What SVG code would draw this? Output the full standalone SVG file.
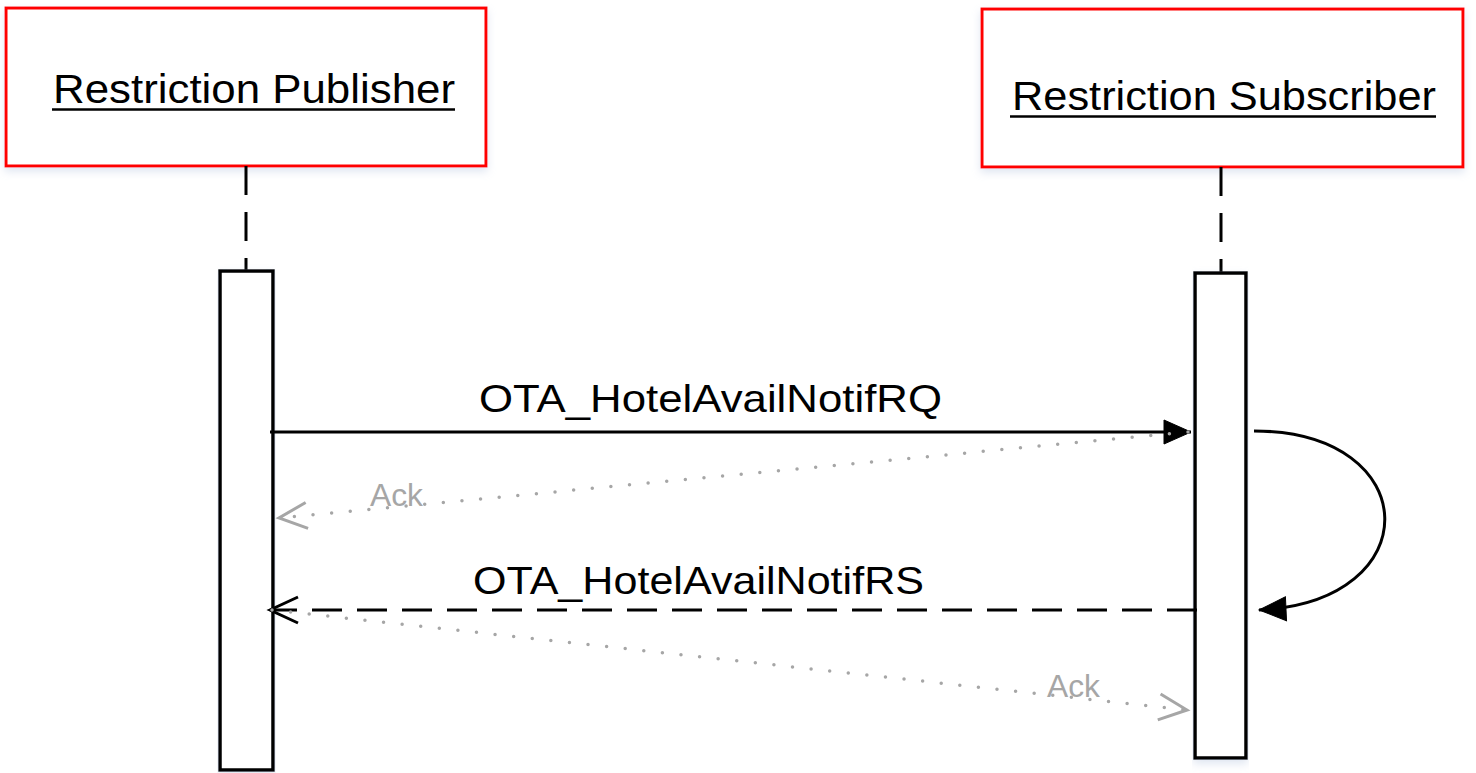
<svg xmlns="http://www.w3.org/2000/svg" width="1476" height="773" viewBox="0 0 1476 773">
  <style>
    .hdr { fill: #ffffff; stroke: #ff0000; stroke-width: 3; }
    .act { fill: #ffffff; stroke: #000000; stroke-width: 3.5; }
    .life { stroke: #000000; stroke-width: 3; stroke-dasharray: 29 17; fill: none; }
    .title { font-family: "Liberation Sans", Arial, sans-serif; font-size: 41px; fill: #000000; }
    .msg { font-family: "Liberation Sans", Arial, sans-serif; font-size: 39px; fill: #000000; }
    .ack { font-family: "Liberation Sans", Arial, sans-serif; font-size: 31px; fill: #a6a6a6; }
    .uline { stroke: #000000; stroke-width: 2.5; }
    .solid { stroke: #000000; stroke-width: 3; fill: none; }
    .dash { stroke: #000000; stroke-width: 3; fill: none; stroke-dasharray: 30 15; }
    .dot { stroke: #a6a6a6; stroke-width: 3.5; fill: none; stroke-dasharray: 0 18.7; stroke-linecap: round; }
  </style>
  <defs>
    <filter id="sh" x="-5%" y="-5%" width="110%" height="115%">
      <feDropShadow dx="0" dy="4" stdDeviation="4" flood-color="#b8c6e0" flood-opacity="0.45"/>
    </filter>
    <marker id="fill" markerUnits="userSpaceOnUse" viewBox="-28 -13 30 26" markerWidth="30" markerHeight="26" refX="0" refY="0" orient="auto" overflow="visible">
      <path d="M-27,-12 L0,0 L-27,12 Z" fill="#000000" stroke="#000000" stroke-width="1" stroke-linejoin="miter"/>
    </marker>
    <marker id="open" markerUnits="userSpaceOnUse" viewBox="-30 -15 32 30" markerWidth="32" markerHeight="30" refX="0" refY="0" orient="auto" overflow="visible">
      <path d="M-28,-13 L0,0 L-28,13" fill="none" stroke="#000000" stroke-width="3" stroke-dasharray="none"/>
    </marker>
    <marker id="openg" markerUnits="userSpaceOnUse" viewBox="-30 -15 32 30" markerWidth="32" markerHeight="30" refX="0" refY="0" orient="auto" overflow="visible">
      <path d="M-28,-13 L0,0 L-28,13" fill="none" stroke="#a6a6a6" stroke-width="3" stroke-dasharray="none"/>
    </marker>
  </defs>
  <rect width="1476" height="773" fill="#ffffff"/>

  <g id="publisher">
    <rect class="hdr" x="6" y="8" width="480" height="158" filter="url(#sh)"/>
    <text class="title" x="53" y="103" textLength="402" lengthAdjust="spacingAndGlyphs">Restriction Publisher</text>
    <line class="uline" x1="52" y1="109.5" x2="455" y2="109.5"/>
    <line class="life" x1="246" y1="166" x2="246" y2="271"/>
    <rect class="act" x="220" y="271" width="53" height="499" filter="url(#sh)"/>
  </g>

  <g id="subscriber">
    <rect class="hdr" x="982" y="9" width="481" height="158" filter="url(#sh)"/>
    <text class="title" x="1012" y="110" textLength="424" lengthAdjust="spacingAndGlyphs">Restriction Subscriber</text>
    <line class="uline" x1="1010" y1="116.5" x2="1436" y2="116.5"/>
    <line class="life" x1="1221" y1="167" x2="1221" y2="273"/>
    <rect class="act" x="1195" y="273" width="51" height="485" filter="url(#sh)"/>
  </g>

  <g id="connectors">
    <line class="solid" x1="270" y1="432" x2="1191" y2="432" marker-end="url(#fill)"/>
    <text class="msg" x="479" y="412" textLength="463" lengthAdjust="spacingAndGlyphs">OTA_HotelAvailNotifRQ</text>

    <line class="dot" x1="1188" y1="432" x2="279" y2="518" marker-end="url(#openg)"/>
    <text class="ack" x="370" y="506" textLength="53" lengthAdjust="spacingAndGlyphs">Ack</text>

    <path class="solid" d="M1254,431 C1425,431 1430,602 1259,610" marker-end="url(#fill)"/>

    <line class="dash" x1="1197" y1="610" x2="270" y2="610" marker-end="url(#open)"/>
    <text class="msg" x="473" y="594" textLength="451" lengthAdjust="spacingAndGlyphs">OTA_HotelAvailNotifRS</text>

    <line class="dot" x1="272" y1="610" x2="1187" y2="710" marker-end="url(#openg)"/>
    <text class="ack" x="1047" y="697" textLength="53" lengthAdjust="spacingAndGlyphs">Ack</text>
  </g>
</svg>
